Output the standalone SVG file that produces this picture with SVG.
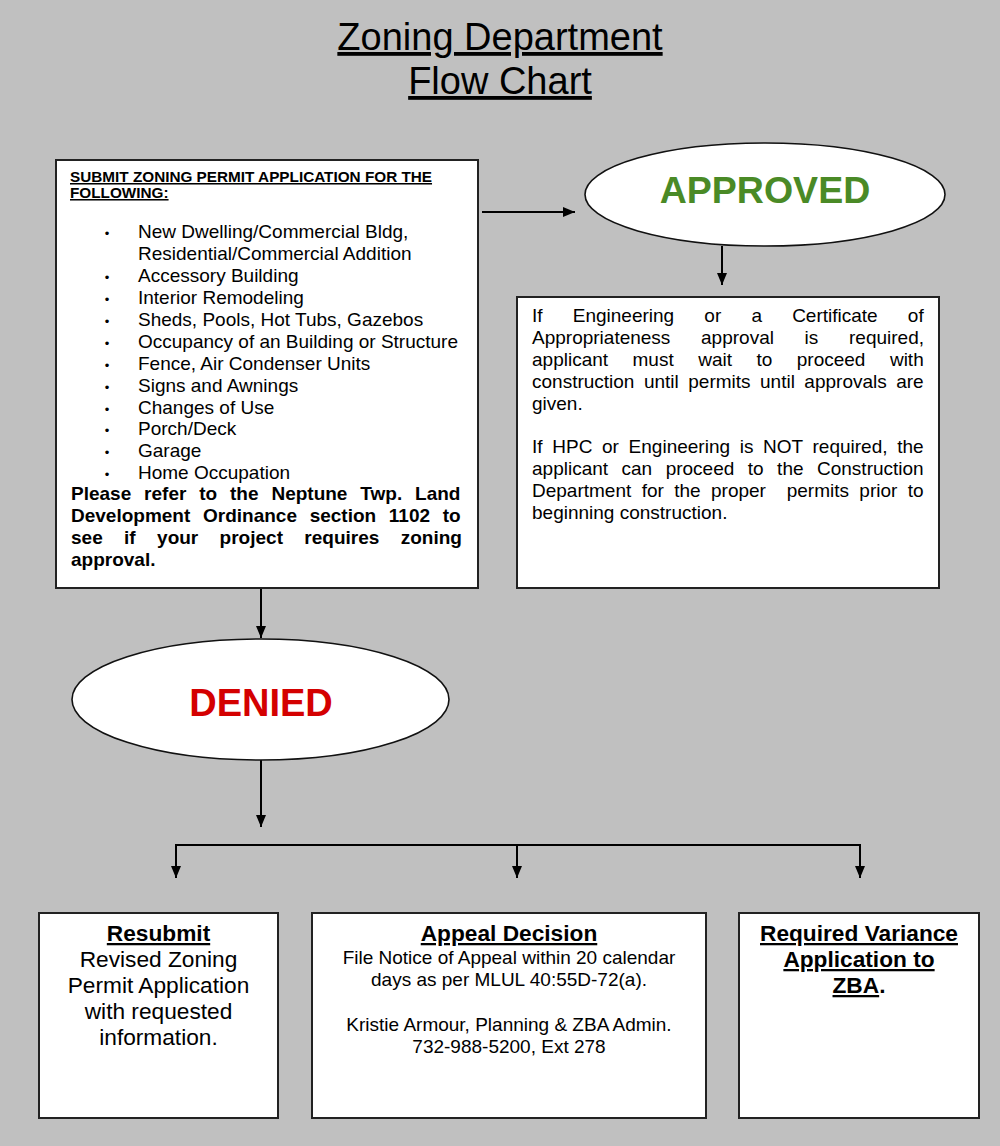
<svg xmlns="http://www.w3.org/2000/svg" width="1000" height="1146" viewBox="0 0 1000 1146">
<style>
.t{font-family:"Liberation Sans",Arial,Helvetica,sans-serif;fill:#000}
.b{font-weight:bold}
.u{text-decoration:underline}
.box{fill:#fff;stroke:#222;stroke-width:2}
.ell{fill:#fff;stroke:#111;stroke-width:1.6}
.conn{stroke:#000;stroke-width:2;fill:none}
.li{font-size:19px}
.bul{font-size:13px}
.p{font-size:19px}
.c{text-anchor:middle}
</style>
<defs>
<marker id="arr" markerUnits="userSpaceOnUse" markerWidth="12" markerHeight="10" viewBox="0 0 12 10" refX="12" refY="5" orient="auto">
<path d="M0,0 L12,5 L0,10 z" fill="#000"/>
</marker>
</defs>
<rect x="0" y="0" width="1000" height="1146" fill="#c0c0c0"/>

<g id="title">
<text class="t u c" x="500" y="50" font-size="38">Zoning Department</text>
<text class="t u c" x="500" y="94" font-size="38">Flow Chart</text>
</g>

<g id="connectors">
<line class="conn" x1="482" y1="212" x2="575" y2="212" marker-end="url(#arr)"/>
<line class="conn" x1="722" y1="246" x2="722" y2="285" marker-end="url(#arr)"/>
<line class="conn" x1="261" y1="589" x2="261" y2="638" marker-end="url(#arr)"/>
<line class="conn" x1="261" y1="760" x2="261" y2="827" marker-end="url(#arr)"/>
<line class="conn" x1="175" y1="845" x2="861" y2="845"/>
<line class="conn" x1="176" y1="844" x2="176" y2="878" marker-end="url(#arr)"/>
<line class="conn" x1="517" y1="845" x2="517" y2="878" marker-end="url(#arr)"/>
<line class="conn" x1="860" y1="844" x2="860" y2="878" marker-end="url(#arr)"/>
</g>

<g id="submit">
<rect class="box" x="56" y="160" width="422" height="428"/>
<text class="t b u" x="70" y="182" font-size="15.3">SUBMIT ZONING PERMIT APPLICATION FOR THE</text>
<text class="t b u" x="70" y="198" font-size="15.3">FOLLOWING:</text>
<g class="t bul c">
<text x="107" y="238">•</text>
<text x="107" y="282">•</text>
<text x="107" y="304">•</text>
<text x="107" y="326">•</text>
<text x="107" y="348">•</text>
<text x="107" y="370">•</text>
<text x="107" y="392">•</text>
<text x="107" y="414">•</text>
<text x="107" y="435">•</text>
<text x="107" y="457">•</text>
<text x="107" y="479">•</text>
</g>
<g class="t li">
<text x="138" y="238">New Dwelling/Commercial Bldg,</text>
<text x="138" y="260">Residential/Commercial Addition</text>
<text x="138" y="282">Accessory Building</text>
<text x="138" y="304">Interior Remodeling</text>
<text x="138" y="326">Sheds, Pools, Hot Tubs, Gazebos</text>
<text x="138" y="348">Occupancy of an Building or Structure</text>
<text x="138" y="370">Fence, Air Condenser Units</text>
<text x="138" y="392">Signs and Awnings</text>
<text x="138" y="414">Changes of Use</text>
<text x="138" y="435">Porch/Deck</text>
<text x="138" y="457">Garage</text>
<text x="138" y="479">Home Occupation</text>
</g>
<g class="t b p">
<text x="71" y="500" style="word-spacing:7.6px">Please refer to the Neptune Twp. Land</text>
<text x="71" y="522" style="word-spacing:7.4px">Development Ordinance section 1102 to</text>
<text x="71" y="544" style="word-spacing:16.1px">see if your project requires zoning</text>
<text x="71" y="566">approval.</text>
</g>
</g>

<g id="approved">
<ellipse class="ell" cx="765" cy="194.5" rx="180" ry="51.5"/>
<text class="t b c" x="765" y="203" font-size="37.5" style="fill:#4a8a26">APPROVED</text>
</g>

<g id="approved-note">
<rect class="box" x="517" y="297" width="422" height="291"/>
<g class="t p">
<text x="532" y="322" style="word-spacing:24.9px">If Engineering or a Certificate of</text>
<text x="532" y="344" style="word-spacing:25.4px">Appropriateness approval is required,</text>
<text x="532" y="366" style="word-spacing:19.2px">applicant must wait to proceed with</text>
<text x="532" y="388" style="word-spacing:4.2px">construction until permits until approvals are</text>
<text x="532" y="410">given.</text>
<text x="532" y="453" style="word-spacing:4.4px">If HPC or Engineering is NOT required, the</text>
<text x="532" y="475" style="word-spacing:8.2px">applicant can proceed to the Construction</text>
<text x="532" y="497" xml:space="preserve" style="word-spacing:5.1px">Department for the proper  permits prior to</text>
<text x="532" y="519">beginning construction.</text>
</g>
</g>

<g id="denied">
<ellipse class="ell" cx="260.5" cy="699.5" rx="188.5" ry="60.5"/>
<text class="t b c" x="261" y="716" font-size="38" style="fill:#d40000">DENIED</text>
</g>

<g id="resubmit">
<rect class="box" x="39" y="913" width="239" height="205"/>
<g class="t c" font-size="22.7">
<text class="b u" x="158.5" y="941">Resubmit</text>
<text x="158.5" y="967">Revised Zoning</text>
<text x="158.5" y="993">Permit Application</text>
<text x="158.5" y="1019">with requested</text>
<text x="158.5" y="1045">information.</text>
</g>
</g>

<g id="appeal">
<rect class="box" x="312" y="913" width="394" height="205"/>
<text class="t b u c" x="509" y="941" font-size="22.7">Appeal Decision</text>
<g class="t c" font-size="19">
<text x="509" y="964">File Notice of Appeal within 20 calendar</text>
<text x="509" y="986">days as per MLUL 40:55D-72(a).</text>
<text x="509" y="1031">Kristie Armour, Planning &amp; ZBA Admin.</text>
<text x="509" y="1053">732-988-5200, Ext 278</text>
</g>
</g>

<g id="variance">
<rect class="box" x="739" y="913" width="240" height="205"/>
<g class="t b c" font-size="22.7">
<text class="u" x="859" y="941">Required Variance</text>
<text class="u" x="859" y="967">Application to</text>
<text x="859" y="993"><tspan class="u">ZBA</tspan>.</text>
</g>
</g>
</svg>
